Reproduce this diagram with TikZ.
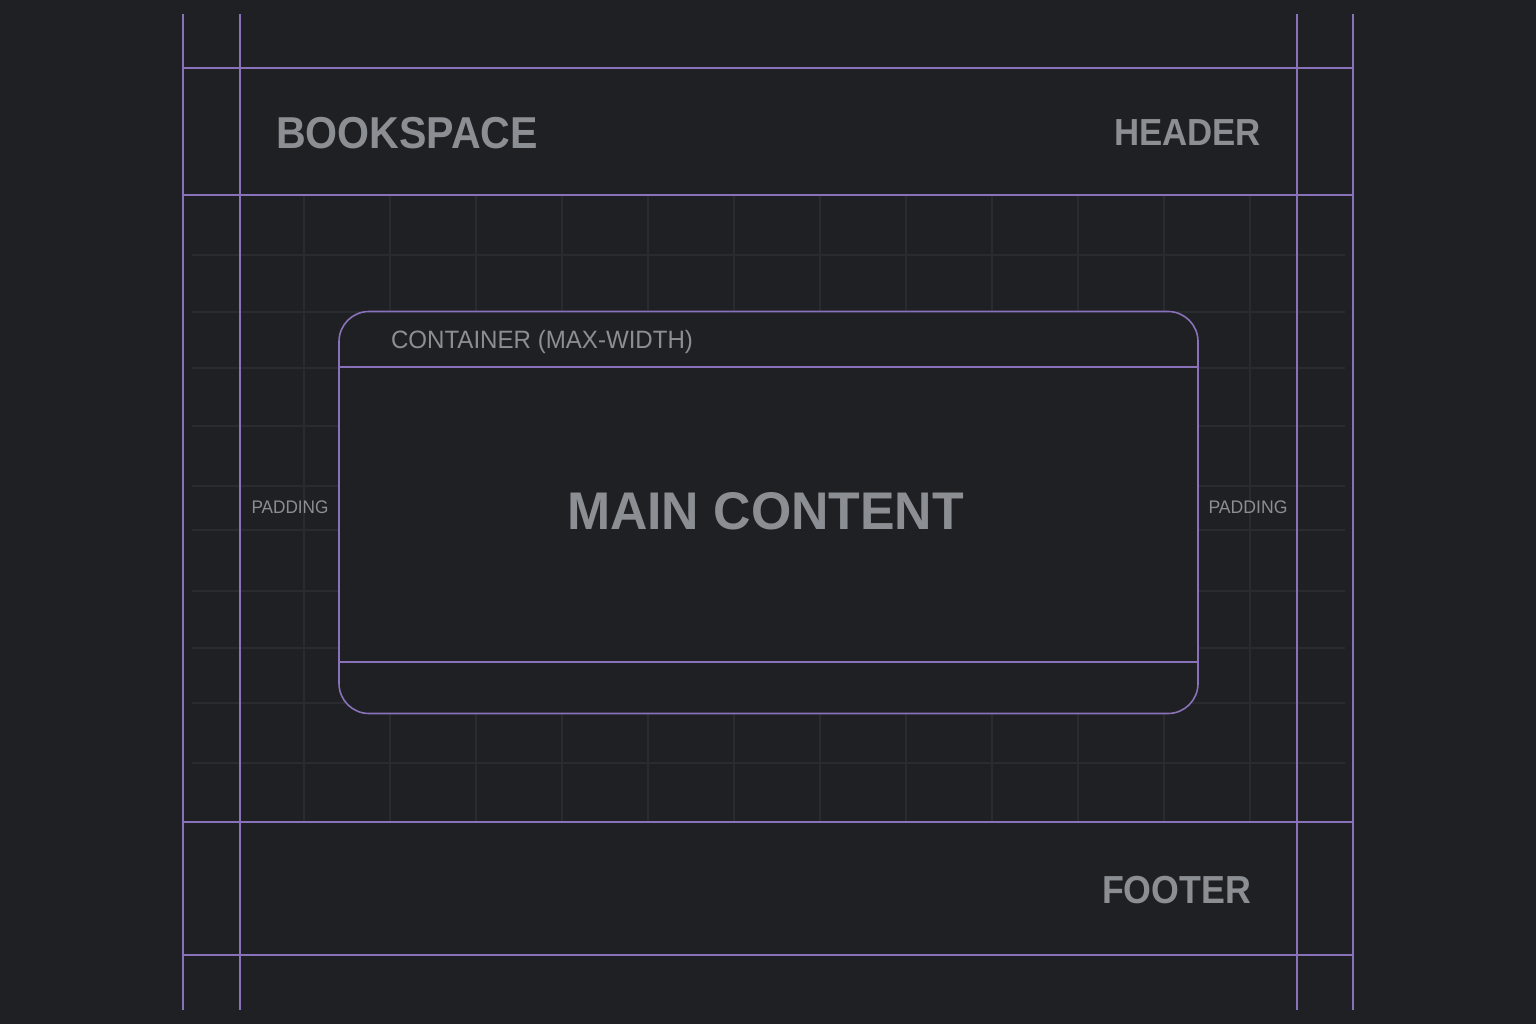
\documentclass[tikz,border=0pt]{standalone}
\usepackage{fontspec}
\usepackage{graphicx}
\setmainfont{Liberation Sans}
\definecolor{bgc}{HTML}{1F2024}
\definecolor{gridc}{HTML}{2A2B30}
\definecolor{purp}{HTML}{8A72BA}
\definecolor{txt}{HTML}{8B8E93}
\newcommand\fitw[2]{\resizebox{#1}{\height}{#2}}
\begin{document}
\begin{tikzpicture}[x=1pt,y=-1pt,
  guide/.style={draw=purp,line width=1.6pt},
  gridline/.style={draw=gridc,line width=1.2pt},
  lbl/.style={text=txt,inner sep=0pt,outer sep=0pt}]
\fill[bgc] (0,0) rectangle (1536,1024);
\useasboundingbox (0,0) rectangle (1536,1024);
% grid
\foreach \gx in {304,390,476,562,648,734,820,906,992,1078,1164,1250}
  \draw[gridline] (\gx,195) -- (\gx,822);
\foreach \gy in {255,312,368,426,486,530,591,648,703,763}
  \draw[gridline] (192,\gy) -- (1345,\gy);
% guides
\foreach \gx in {183,240,1297,1353}
  \draw[guide] (\gx,14) -- (\gx,1010);
\foreach \gy in {68,195,822,955}
  \draw[guide] (183,\gy) -- (1353,\gy);
% container
\node[guide,fill=bgc,rounded corners=30pt,minimum width=859pt,minimum height=402pt,inner sep=0pt] (container) at (768.5,512.5) {};
\coordinate (hl) at (339,367);
\coordinate (hr) at (1198,367);
\coordinate (fl) at (339,662);
\coordinate (fr) at (1198,662);
\draw[guide] (hl) -- (hr);
\draw[guide] (fl) -- (fr);
% labels
\node[lbl,anchor=base west] (book) at (276,149) {\fontsize{44.7}{50}\selectfont\bfseries\fitw{262pt}{BOOKSPACE}};
\node[lbl,anchor=base east] (header) at (1261,146) {\fontsize{37.7}{44}\selectfont\bfseries\fitw{147pt}{HEADER}};
\node[lbl,anchor=base east] (footer) at (1251,903) {\fontsize{39.1}{44}\selectfont\bfseries\fitw{149pt}{FOOTER}};
\node[lbl,anchor=base] (main) at (765.5,529) {\fontsize{53}{60}\selectfont\bfseries\fitw{397pt}{MAIN CONTENT}};
\node[lbl,anchor=base west] (ctitle) at (391,348) {\fontsize{25.1}{30}\selectfont\fitw{302pt}{CONTAINER (MAX-WIDTH)}};
\node[lbl,anchor=base west] (padl) at (251.5,513) {\fontsize{18.2}{22}\selectfont\fitw{77pt}{PADDING}};
\node[lbl,anchor=base west] (padr) at (1208.5,513) {\fontsize{18.2}{22}\selectfont\fitw{79pt}{PADDING}};
\end{tikzpicture}
\end{document}
